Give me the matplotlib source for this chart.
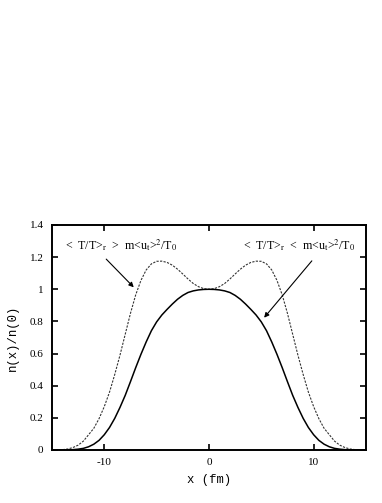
import matplotlib
matplotlib.use("Agg")
import matplotlib.pyplot as plt

plt.rcParams['font.family'] = ['Liberation Serif', 'DejaVu Serif']
plt.rcParams['mathtext.fontset'] = 'stix'
plt.rcParams['axes.unicode_minus'] = False

# data (x in fm)
x = [-15.0, -14.5, -14.0, -13.5, -13.0, -12.5, -12.0, -11.5, -11.0, -10.5,
     -10.0, -9.5, -9.0, -8.5, -8.0, -7.5, -7.0, -6.5, -6.0, -5.5,
     -5.0, -4.5, -4.0, -3.5, -3.0, -2.5, -2.0, -1.5, -1.0, -0.5,
     0.0, 0.5, 1.0, 1.5, 2.0, 2.5, 3.0, 3.5, 4.0, 4.5,
     5.0, 5.5, 6.0, 6.5, 7.0, 7.5, 8.0, 8.5, 9.0, 9.5,
     10.0, 10.5, 11.0, 11.5, 12.0, 12.5, 13.0, 13.5, 14.0, 14.5, 15.0]

# < T/T >_r < m<u_t>^2/T_0  (solid)
n_solid = [0.0, 0.0, 0.0, 0.0, 0.002, 0.005, 0.01, 0.02, 0.036, 0.06,
           0.095, 0.14, 0.197, 0.265, 0.34, 0.425, 0.512, 0.595, 0.672, 0.742,
           0.797, 0.84, 0.875, 0.908, 0.938, 0.962, 0.98, 0.99, 0.996, 0.999,
           1.0, 0.999, 0.996, 0.99, 0.98, 0.962, 0.938, 0.908, 0.875, 0.84,
           0.797, 0.742, 0.672, 0.595, 0.512, 0.425, 0.34, 0.265, 0.197, 0.14,
           0.095, 0.06, 0.036, 0.02, 0.01, 0.005, 0.002, 0.0, 0.0, 0.0, 0.0]

# < T/T >_r > m<u_t>^2/T_0  (dashed)
n_dash = [0.0, 0.0, 0.002, 0.006, 0.015, 0.03, 0.055, 0.095, 0.135, 0.195,
          0.27, 0.36, 0.47, 0.59, 0.72, 0.85, 0.965, 1.055, 1.12, 1.158,
          1.174, 1.175, 1.167, 1.15, 1.125, 1.095, 1.064, 1.036, 1.016, 1.004,
          1.0, 1.004, 1.016, 1.036, 1.064, 1.095, 1.125, 1.15, 1.167, 1.175,
          1.174, 1.158, 1.12, 1.055, 0.965, 0.85, 0.72, 0.59, 0.47, 0.36,
          0.27, 0.195, 0.135, 0.095, 0.055, 0.03, 0.015, 0.006, 0.002, 0.0, 0.0]

xticks = [-10, 0, 10]
yticks = [0, 0.2, 0.4, 0.6, 0.8, 1, 1.2, 1.4]
ytick_labels = ['0', '0.2', '0.4', '0.6', '0.8', '1', '1.2', '1.4']

fig = plt.figure(figsize=(3.82, 5.03), dpi=100)
ax = fig.add_axes([0.136, 0.1054, 0.822, 0.4473])

ax.plot(x, n_dash, color='#333333', lw=0.8, linestyle=(0, (2, 1.2)))
ax.plot(x, n_solid, color='black', lw=1.1)

ax.set_xlim(-15, 15)
ax.set_ylim(0, 1.4)
ax.set_xticks(xticks)
ax.set_yticks(yticks)
ax.set_yticklabels(ytick_labels)
ax.tick_params(direction='in', length=4, width=1.2, labelsize=8,
               top=True, right=True, pad=6)
for s in ax.spines.values():
    s.set_linewidth(1.4)

ax.set_xlabel('x (fm)', family='Liberation Mono', fontsize=8.8, labelpad=5)
ax.set_ylabel('n(x)/n(0)', family='Liberation Mono', fontsize=8.8, labelpad=8)

# labels and arrows
ax.text(-13.8, 1.275, r'<  T/T>$_\mathrm{r}$  >  m<u$_\mathrm{t}$>$^2$/T$_0$',
        fontsize=8.6, ha='left', va='center')
ax.text(14.0, 1.275, r'<  T/T>$_\mathrm{r}$  <  m<u$_\mathrm{t}$>$^2$/T$_0$',
        fontsize=8.6, ha='right', va='center')
ax.annotate('', xy=(-7.0, 1.0), xytext=(-10.0, 1.2),
            arrowprops=dict(arrowstyle='-|>', color='black', lw=0.8,
                            mutation_scale=7))
ax.annotate('', xy=(5.1, 0.81), xytext=(10.0, 1.19),
            arrowprops=dict(arrowstyle='-|>', color='black', lw=0.8,
                            mutation_scale=7))

fig.savefig('out.png', dpi=100)
